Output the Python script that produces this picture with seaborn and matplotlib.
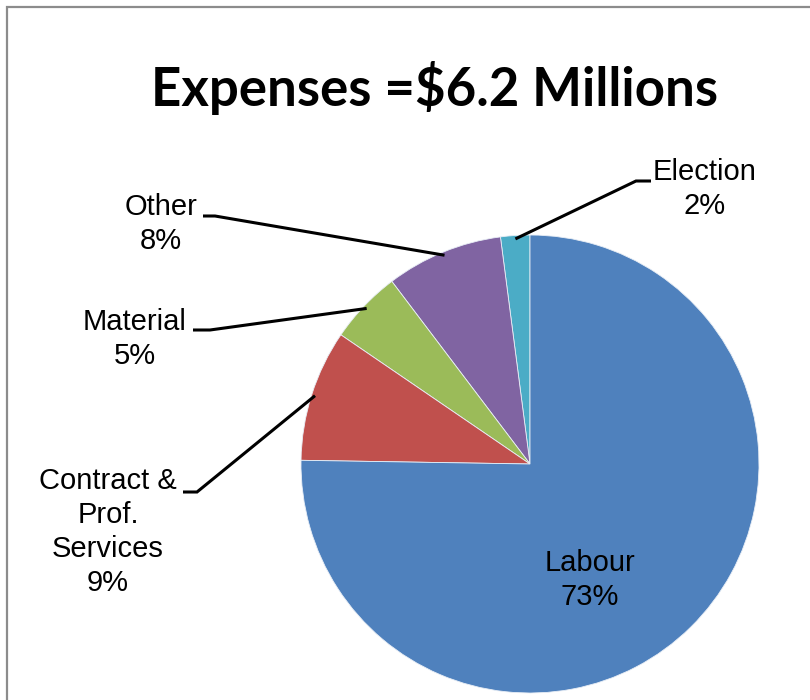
import numpy as np
import matplotlib
matplotlib.use("Agg")
import matplotlib.pyplot as plt
from matplotlib.patches import Rectangle
import seaborn as sns

# Expense breakdown (percent of total), counter-clockwise from 12 o'clock
categories = ["Election", "Other", "Material", "Contract &\nProf.\nServices", "Labour"]
percents = [2, 8, 5, 9, 73]
colors = ["#4BACC6", "#8064A2", "#9BBB59", "#C0504D", "#4F81BD"]
title = "Expenses =$6.2 Millions"

sns.set_theme(style="white")
plt.rcParams["font.family"] = ["Liberation Sans", "DejaVu Sans"]
plt.rcParams["text.color"] = "black"

W, H = 810, 700
fig = plt.figure(figsize=(W / 100, H / 100), dpi=100)
ax = fig.add_axes([0, 0, 1, 1])


def py(y):
    """Convert a top-down pixel row into the axes' bottom-up coordinate."""
    return H - y


cx, cy, R = 530, py(464), 229
wedges, _ = ax.pie(
    percents, colors=colors, startangle=90, counterclock=True,
    center=(cx, cy), radius=R,
    wedgeprops=dict(edgecolor="#e8eef6", linewidth=0.6),
)
ax.set_xlim(0, W)
ax.set_ylim(0, H)
ax.set_aspect("equal")
ax.axis("off")

# chart-area border
fig.patches.append(Rectangle((7 / W, -0.1), 1.2, (H - 7) / H + 0.1,
                             transform=fig.transFigure, fill=False,
                             edgecolor="#8c8c8c", linewidth=1.6))

fig.text(435 / W, 1 - 88 / H, title, ha="center", va="center",
         fontsize=38, fontweight="bold", color="black",
         family=["Lato", "DejaVu Sans"])

# label block centres and leader-line start points (pixels, top-down)
label_pos = {
    "Election": (705, 189, (651, 181), (636, 181)),
    "Other": (161, 224, (203, 216), (215, 216)),
    "Material": (135, 339, (193, 330), (210, 330)),
    "Contract &\nProf.\nServices": (108, 532, (183, 492), (197, 492)),
    "Labour": (590, 580, None, None),
}

for w, name, pct in zip(wedges, categories, percents):
    x, y, p0, p1 = label_pos[name]
    ax.text(x, py(y), f"{name}\n{pct}%", ha="center", va="center",
            fontsize=21, color="black", linespacing=1.26,
            multialignment="center")
    if p0 is not None:
        mid = np.deg2rad((w.theta1 + w.theta2) / 2)
        ex = cx + R * 0.985 * np.cos(mid)
        ey = cy + R * 0.985 * np.sin(mid)
        ax.plot([p0[0], p1[0], ex], [py(p0[1]), py(p1[1]), ey],
                color="black", linewidth=2.2, solid_capstyle="butt",
                solid_joinstyle="miter")

fig.savefig("out.png", dpi=100)
